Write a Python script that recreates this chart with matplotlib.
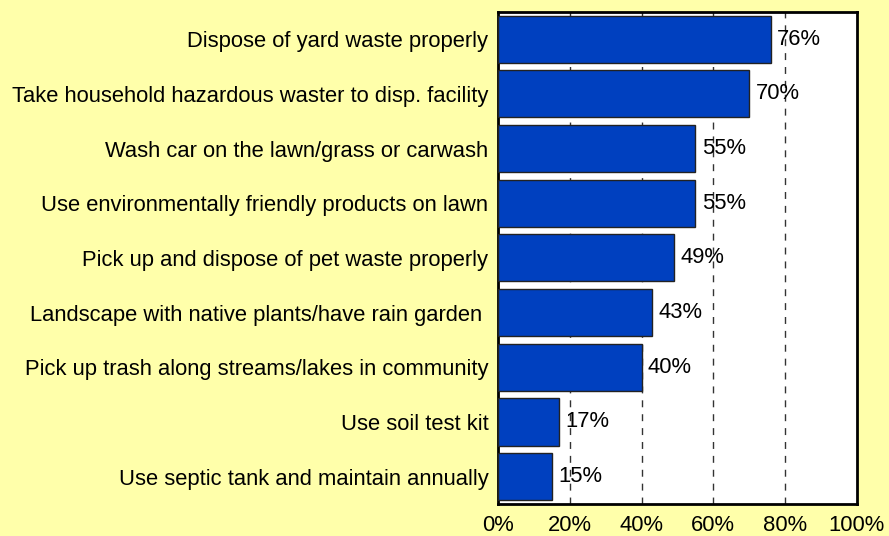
import matplotlib.pyplot as plt
from matplotlib.ticker import FuncFormatter

plt.rcParams['font.family'] = ['Liberation Sans', 'DejaVu Sans']

categories = [
    "Dispose of yard waste properly",
    "Take household hazardous waster to disp. facility",
    "Wash car on the lawn/grass or carwash",
    "Use environmentally friendly products on lawn",
    "Pick up and dispose of pet waste properly",
    "Landscape with native plants/have rain garden ",
    "Pick up trash along streams/lakes in community",
    "Use soil test kit",
    "Use septic tank and maintain annually",
]
values = [76, 70, 55, 55, 49, 43, 40, 17, 15]
ticks = [0, 20, 40, 60, 80, 100]

bg = '#FFFFAA'
fontsize = 15.8

fig = plt.figure(figsize=(8.89, 5.36), dpi=100, facecolor=bg)
ax = fig.add_axes([0.5602, 0.0597, 0.4035, 0.918])

ypos = list(range(len(categories)))
ax.barh(ypos, values, height=0.86, color='#0040BF', edgecolor='#222222',
        linewidth=1, zorder=3)
for y, v in zip(ypos, values):
    ax.text(v + 1.8, y, f'{v}%', va='center', ha='left', fontsize=fontsize,
            color='black', zorder=4)

ax.set_xlim(0, 100)
ax.set_ylim(len(categories) - 0.5, -0.5)
ax.set_yticks(ypos)
ax.set_yticklabels(categories, fontsize=fontsize)
ax.set_xticks(ticks)
ax.xaxis.set_major_formatter(FuncFormatter(lambda x, p: f'{int(x)}%'))
ax.tick_params(axis='both', length=0, labelsize=fontsize)
ax.tick_params(axis='y', pad=7)
ax.tick_params(axis='x', pad=8)
for t in [20, 40, 60, 80]:
    ax.axvline(t, color='#333333', linestyle=(0, (5, 5)), linewidth=1, zorder=2)
for s in ax.spines.values():
    s.set_linewidth(2)
    s.set_color('black')
ax.set_facecolor('white')

plt.savefig('out.png', dpi=100, facecolor=bg)
